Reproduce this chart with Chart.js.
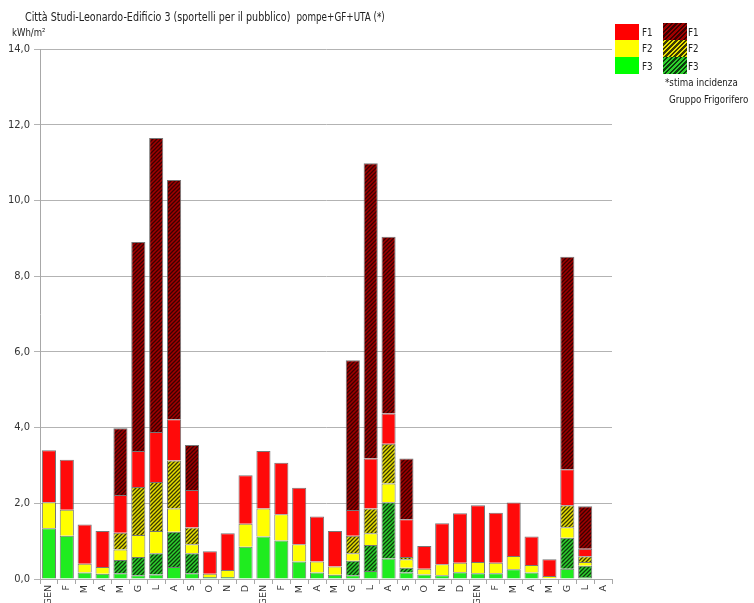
<!DOCTYPE html>
<html>
<head>
<meta charset="utf-8">
<script src="https://cdn.jsdelivr.net/npm/chart.js@4"></script>
<style>
  html,body{margin:0;padding:0;background:#fff;overflow:hidden;}
  #wrap{position:relative;width:754px;height:603px;font-family:'Liberation Sans Narrow','DejaVu Sans Condensed',sans-serif;color:#222;}
  canvas{position:absolute;left:0;top:0;}
  .t{position:absolute;white-space:nowrap;transform-origin:0 0;}
  .lg{transform:scaleX(0.88);font-size:11px;}
  .box{position:absolute;width:24px;}
  .h1{background:repeating-linear-gradient(-45deg,#a00000 0 1.8px,#3a0000 1.8px 3.3px);}
  .h2{background:repeating-linear-gradient(-45deg,#e8de00 0 1.6px,#3a3a00 1.6px 3.3px);}
  .h3{background:repeating-linear-gradient(-45deg,#2ed02e 0 1.8px,#0b3d0b 1.8px 3.3px);}
</style>
</head>
<body>
<div id="wrap">
  <canvas id="chart" width="754" height="603"></canvas>
  <div class="t" style="left:25px;top:9px;font-size:12.5px;transform:scaleX(0.85);">Città Studi-Leonardo-Edificio 3 (sportelli per il pubblico)&nbsp; <span style="font-size:11.5px">pompe+GF+UTA (*)</span></div>
  <div class="t" style="left:12px;top:27px;font-size:10px;transform:scaleX(0.95);">kWh/m²</div>

  <div class="box" style="left:615px;top:24px;height:16px;background:#ff0000"></div>
  <div class="box" style="left:615px;top:40px;height:17px;background:#ffff00"></div>
  <div class="box" style="left:615px;top:57px;height:17px;background:#00ff00"></div>
  <div class="t lg" style="left:642px;top:26px;">F1</div>
  <div class="t lg" style="left:642px;top:42px;">F2</div>
  <div class="t lg" style="left:642px;top:60px;">F3</div>

  <div class="box h1" style="left:663px;top:23px;height:17px;"></div>
  <div class="box h2" style="left:663px;top:40px;height:17px;"></div>
  <div class="box h3" style="left:663px;top:57px;height:17px;"></div>
  <div class="t lg" style="left:688px;top:26px;">F1</div>
  <div class="t lg" style="left:688px;top:42px;">F2</div>
  <div class="t lg" style="left:688px;top:60px;">F3</div>
  <div class="t lg" style="left:665px;top:76px;">*stima incidenza</div>
  <div class="t lg" style="left:669px;top:93px;">Gruppo Frigorifero</div>
</div>
<script>
// months, three years starting January
const months = ['GEN','F','M','A','M','G','L','A','S','O','N','D',
                'GEN','F','M','A','M','G','L','A','S','O','N','D',
                'GEN','F','M','A','M','G','L','A'];

// kWh/m2 per band, measured (null = nothing)
const f3  = [1.34,1.14,0.17,0.14,0.15,0.10,0.12,0.32,0.15,0.05,0.05,0.85,
             1.12,1.02,0.46,0.17,0.11,0.10,0.21,0.54,0.17,0.12,0.10,0.18,
             0.15,0.15,0.26,0.17,0.02,0.27,0.05,null];
const f3gf = [null,null,null,null,0.35,0.48,0.56,0.93,0.53,null,null,null,
             null,null,null,null,null,0.38,0.69,1.49,0.13,null,null,null,
             null,null,null,null,null,0.82,0.30,null];
const f2  = [0.69,0.69,0.23,0.18,0.28,0.58,0.59,0.61,0.24,0.09,0.19,0.61,
             0.74,0.69,0.46,0.29,0.22,0.20,0.31,0.49,0.22,0.15,0.29,0.25,
             0.30,0.28,0.35,0.20,0.06,0.28,0.10,null];
const f2gf = [null,null,null,null,0.44,1.27,1.29,1.27,0.44,null,null,null,
             null,null,null,null,null,0.46,0.65,1.05,0.06,null,null,null,
             null,null,null,null,null,0.58,0.15,null];
const f1  = [1.37,1.32,1.04,0.95,1.00,0.95,1.32,1.09,0.99,0.59,0.97,1.28,
             1.52,1.36,1.49,1.19,0.94,0.68,1.32,0.80,1.00,0.60,1.08,1.31,
             1.50,1.32,1.41,0.75,0.44,0.95,0.20,null];
const f1gf = [null,null,null,null,1.76,5.52,7.77,6.32,1.19,null,null,null,
             null,null,null,null,null,3.96,7.80,4.67,1.60,null,null,null,
             null,null,null,null,null,5.61,1.12,null];

function hatch(base, line){
  const c=document.createElement('canvas');
  c.width=c.height=4;
  const g=c.getContext('2d');
  g.fillStyle=base; g.fillRect(0,0,4,4);
  g.strokeStyle=line; g.lineWidth=1.3;
  g.beginPath();
  g.moveTo(0,4); g.lineTo(4,0);
  g.moveTo(-1,1); g.lineTo(1,-1);
  g.moveTo(3,5); g.lineTo(5,3);
  g.stroke();
  return g.createPattern(c,'repeat');
}

const edge='rgba(95,95,95,0.85)';
function ds(label, data, bg){
  return {label, data, backgroundColor:bg, borderColor:edge, borderWidth:1, stack:'s',
          categoryPercentage:1, barPercentage:0.79};
}

new Chart(document.getElementById('chart'), {
  type:'bar',
  data:{
    labels:months,
    datasets:[
      ds('F3', f3, '#1fec1f'),
      ds('F3 GF', f3gf, hatch('#2ed02e','#0b3d0b')),
      ds('F2', f2, '#ffff00'),
      ds('F2 GF', f2gf, hatch('#e8de00','#3a3a00')),
      ds('F1', f1, '#ff0a0a'),
      ds('F1 GF', f1gf, hatch('#a00000','#3a0000'))
    ]
  },
  options:{
    responsive:false,
    animation:false,
    layout:{padding:{left:0,right:142,top:49,bottom:0}},
    plugins:{legend:{display:false},tooltip:{enabled:false}},
    scales:{
      x:{
        stacked:true,
        afterFit:s=>{s.height=24;},
        grid:{drawOnChartArea:false,tickLength:5,color:'#a8a8a8'},
        border:{color:'#a8a8a8'},
        ticks:{autoSkip:false,minRotation:90,maxRotation:90,padding:1,
               font:{family:'DejaVu Sans',size:9.5},color:'#333'}
      },
      y:{
        stacked:true,
        min:0,max:14,
        afterFit:s=>{s.width=40;},
        grid:{tickLength:6,color:'#b3b3b3'},
        border:{color:'#a8a8a8'},
        ticks:{stepSize:2,padding:4,color:'#333',
               font:{family:"'Liberation Sans Narrow','DejaVu Sans Condensed',sans-serif",size:11},
               callback:v=>v.toFixed(1).replace('.',',')}
      }
    }
  }
});
</script>
</body>
</html>
